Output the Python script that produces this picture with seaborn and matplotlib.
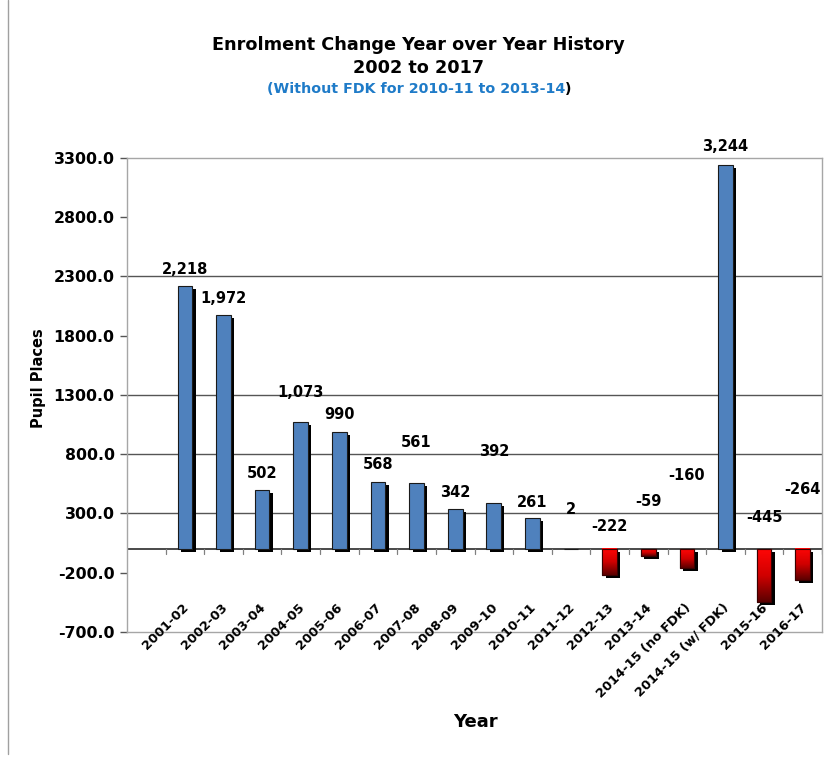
import numpy as np
import pandas as pd
import matplotlib
matplotlib.use("Agg")
import matplotlib.pyplot as plt
import seaborn as sns
from matplotlib import patheffects as pe
from matplotlib.colors import LinearSegmentedColormap
from matplotlib.patches import Rectangle
from matplotlib.lines import Line2D
from matplotlib.transforms import blended_transform_factory

# School years and the year-over-year change in pupil places
years = ["2001-02", "2002-03", "2003-04", "2004-05", "2005-06", "2006-07",
         "2007-08", "2008-09", "2009-10", "2010-11", "2011-12", "2012-13",
         "2013-14", "2014-15 (no FDK)", "2014-15 (w/ FDK)", "2015-16", "2016-17"]
changes = [2218, 1972, 502, 1073, 990, 568, 561, 342, 392, 261, 2, -222,
           -59, -160, 3244, -445, -264]
# How far each value label sits above the top of its bar (or above zero)
label_lift = [137, 139, 135, 249, 144, 145, 340, 135, 430, 131, 331, 193,
              404, 620, 150, 266, 502]
y_ticks = list(range(-700, 3301, 500))
grid_values = [2300, 1300, 800, 300]

sns.set_theme(style="white")
plt.rcParams["font.family"] = ["DejaVu Sans"]
plt.rcParams["text.color"] = "black"
plt.rcParams["axes.labelcolor"] = "black"
plt.rcParams["xtick.color"] = "black"
plt.rcParams["ytick.color"] = "black"

fig = plt.figure(figsize=(8.29, 7.81), dpi=100)
ax = fig.add_axes([0.1532, 0.1908, 0.8384, 0.6069])

df = pd.DataFrame({"Year": years, "Change": changes})
blue = "#4F81BD"
sns.barplot(data=df, x="Year", y="Change", color=blue, width=0.38,
            saturation=1, ax=ax, zorder=3, edgecolor="#1a1a1a", linewidth=0.8)

shadow = [pe.SimplePatchShadow(offset=(2.4, -2.2), shadow_rgbFace="black", alpha=1.0),
          pe.Normal()]
red_cmap = LinearSegmentedColormap.from_list("neg", ["#FF0606", "#D00000", "#5A0000"])
grad = np.linspace(0, 1, 256).reshape(-1, 1)

for patch, val in zip(ax.patches, changes):
    patch.set_path_effects(shadow)
    if val < 0:
        x0, w = patch.get_x(), patch.get_width()
        h = patch.get_height()
        patch.set_facecolor("none")
        ax.imshow(grad, cmap=red_cmap, aspect="auto",
                  extent=[x0, x0 + w, h, 0], origin="upper", zorder=4,
                  interpolation="bilinear")
        ax.add_patch(Rectangle((x0, 0), w, h, fill=False, edgecolor="#3a0000",
                               linewidth=0.8, zorder=5))

# Value labels
for i, (val, lift) in enumerate(zip(changes, label_lift)):
    ax.text(i, max(val, 0) + lift, f"{val:,}", ha="center", va="center",
            fontsize=10.5, fontweight="bold", color="black", zorder=6)

ax.set_xlim(-1.5, 16.5)
ax.set_ylim(-700, 3300)
ax.set_yticks(y_ticks)
ax.set_yticklabels([f"{v:.1f}" for v in y_ticks], fontsize=11.3, fontweight="bold")
ax.tick_params(axis="y", which="major", length=5, width=1, color="#555555",
               pad=4, left=True)

# Horizontal rules and zero axis
for g in grid_values:
    ax.axhline(g, color="#555555", linewidth=1.0, zorder=1)
ax.axhline(0, color="#3a3a3a", linewidth=1.3, zorder=2)
for k in range(18):
    ax.add_line(Line2D([k - 0.5, k - 0.5], [0, -40], color="#808080",
                       linewidth=0.9, zorder=2))

for side in ["left", "right", "top", "bottom"]:
    ax.spines[side].set_visible(True)
    ax.spines[side].set_color("#a6a6a6")
    ax.spines[side].set_linewidth(1.0)

# Category labels sit just above the bottom of the plot frame
ax.set_xticks([])
trans = blended_transform_factory(ax.transData, ax.transAxes)
for i, name in enumerate(years):
    ax.text(i - 0.08, 0.066, name, transform=trans, rotation=45,
            rotation_mode="anchor", ha="right", va="top",
            fontsize=9.3, fontweight="bold", zorder=6, clip_on=False)

ax.set_xlabel("")
ax.set_ylabel("")
fig.text(0.573, 0.075, "Year", ha="center", va="center",
         fontsize=13, fontweight="bold")
fig.text(0.046, 0.516, "Pupil Places", ha="center", va="center",
         rotation=90, fontsize=10.5, fontweight="bold")

fig.text(0.505, 0.942, "Enrolment Change Year over Year History",
         ha="center", va="center", fontsize=12.7, fontweight="bold")
fig.text(0.505, 0.913, "2002 to 2017", ha="center", va="center",
         fontsize=12.7, fontweight="bold")
sub = fig.text(0.5015, 0.886, "(Without FDK for 2010-11 to 2013-14", ha="center",
               va="center", fontsize=10.3, fontweight="bold", color="#1F7BC8")
fig.canvas.draw()
bb = sub.get_window_extent().transformed(fig.transFigure.inverted())
fig.text(bb.x1, 0.886, ")", ha="left", va="center", fontsize=10.3,
         fontweight="bold", color="black")

# Thin frame rule at the left edge
fig.add_artist(Line2D([0.0097, 0.0097], [0.035, 1.0], color="#a0a0a0",
                      linewidth=1.0, transform=fig.transFigure))

fig.savefig("out.png", dpi=100, facecolor="white")
